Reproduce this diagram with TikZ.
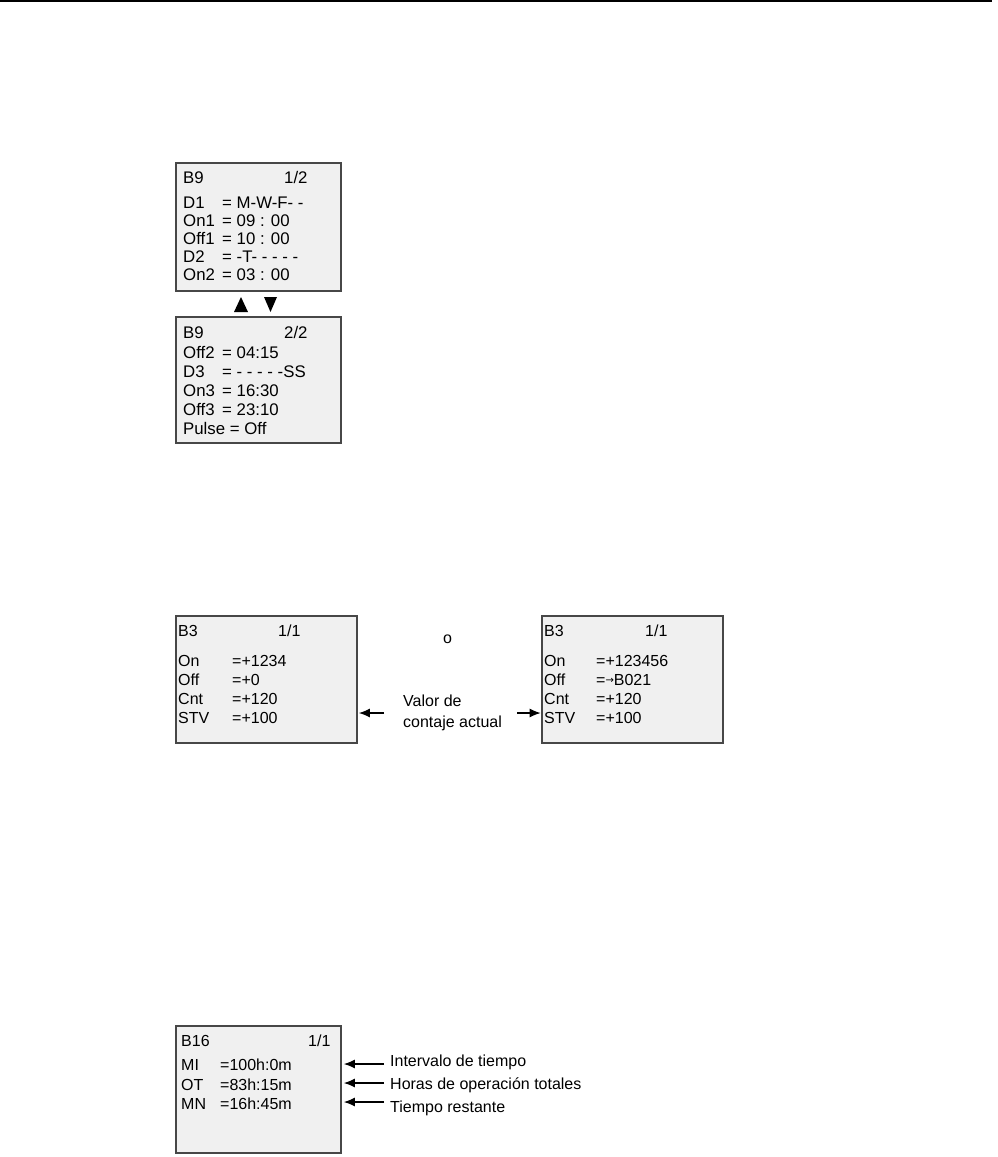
\documentclass[tikz,border=0pt]{standalone}
\usepackage{fontspec}
\setmainfont{Liberation Sans}
\newfontfamily\symfont{DejaVu Sans}
\usetikzlibrary{arrows.meta}
\begin{document}
\begin{tikzpicture}[x=1pt,y=-1pt,
  lcd/.style={draw=black!72,line width=1.8pt,fill=black!6},
  txt/.style={anchor=base west,inner sep=0pt,font=\fontsize{16.8}{19}\selectfont},
  lbl/.style={anchor=base west,inner sep=0pt,font=\fontsize{16}{19}\selectfont},
  arr/.style={-{Latex[length=11pt,width=9pt]},line width=1.1pt},
  tri/.style={fill=black}]
\useasboundingbox (0,0) rectangle (998,1157);
\draw[line width=1.6pt] (0,1) -- (992,1);

% ---- B9 screens
\path[lcd] (176,163) rectangle (341,291);
\path[lcd] (176,317) rectangle (341,443);
\node (b1a) [txt] at (183,183) {B9};
\node (b1b) [txt] at (284,183) {1/2};
\foreach \n/\y/\l/\v in {d1/208/D1/{= M-W-F- -},on1/226/On1/{= 09 : 00},of1/244/Off1/{= 10 : 00},d2/262/D2/{= -T- - - - -},on2/280/On2/{= 03 : 00}}{
  \node (\n l) [txt] at (183,\y) {\l};
  \node (\n v) [txt] at (222,\y) {\v};
}
\node (b2a) [txt] at (183,338) {B9};
\node (b2b) [txt] at (284,338) {2/2};
\foreach \n/\y/\l/\v in {of2/358/Off2/{= 04:15},d3/377/D3/{= - - - - -SS},on3/396/On3/{= 16:30},of3/415/Off3/{= 23:10}}{
  \node (\n l) [txt] at (183,\y) {\l};
  \node (\n v) [txt] at (222,\y) {\v};
}
\node (pul) [txt] at (183,434) {Pulse = Off};
\fill[tri] (234,312) -- (248,312) -- (241,297) -- cycle;
\fill[tri] (264,297) -- (277,297) -- (270.5,312) -- cycle;

% ---- B3 screens
\node (s3) [lcd,minimum width=181pt,minimum height=127pt,inner sep=0pt] at (266.5,679.5) {};
\node (s4) [lcd,minimum width=181pt,minimum height=127pt,inner sep=0pt] at (632.5,679.5) {};
\node (s3a) [lbl] at (178,636) {B3};
\node (s3b) [lbl] at (278,636) {1/1};
\foreach \n/\y/\l/\v in {on/666/On/{=+1234},of/685/Off/{=+0},cn/704/Cnt/{=+120},st/723/STV/{=+100}}{
  \node (s3\n l) [lbl] at (178,\y) {\l};
  \node (s3\n v) [lbl] at (232,\y) {\v};
}
\node (s4a) [lbl] at (544,636) {B3};
\node (s4b) [lbl] at (645,636) {1/1};
\foreach \n/\y/\l/\v in {on/666/On/{=+123456},of/685/Off/{={\symfont\fontsize{10}{10}\selectfont\raisebox{1.5pt}{→}}B021},cn/704/Cnt/{=+120},st/723/STV/{=+100}}{
  \node (s4\n l) [lbl] at (544,\y) {\l};
  \node (s4\n v) [lbl] at (596,\y) {\v};
}
\node (o) [lbl] at (443,643) {o};
\node (v1) [lbl] at (403,706) {Valor de};
\node (v2) [lbl] at (403,727) {contaje actual};
\coordinate (la) at (384,713);
\coordinate (ra) at (517,713);
\draw[arr] (la) -- ([xshift=1pt]s3.east |- la);
\draw[arr] (ra) -- ([xshift=-0.5pt]s4.west |- ra);

% ---- B16 screen
\node (s5) [lcd,minimum width=165pt,minimum height=127pt,inner sep=0pt] at (258.5,1089.5) {};
\node (s5a) [lbl] at (181,1046) {B16};
\node (s5b) [lbl] at (308,1046) {1/1};
\foreach \n/\y/\l/\v in {mi/1070/MI/{=100h:0m},ot/1090/OT/{=83h:15m},mn/1109/MN/{=16h:45m}}{
  \node (s5\n l) [lbl] at (181,\y) {\l};
  \node (s5\n v) [lbl] at (220,\y) {\v};
}
\node (t1) [lbl] at (390,1066) {Intervalo de tiempo};
\node (t2) [lbl] at (390,1089) {Horas de operación totales};
\node (t3) [lbl] at (390,1112) {Tiempo restante};
\coordinate (a1) at (384,1064);
\coordinate (a2) at (384,1083);
\coordinate (a3) at (384,1102);
\draw[arr] (a1) -- ([xshift=2pt]s5.east |- a1);
\draw[arr] (a2) -- ([xshift=2pt]s5.east |- a2);
\draw[arr] (a3) -- ([xshift=2pt]s5.east |- a3);
\end{tikzpicture}
\end{document}
